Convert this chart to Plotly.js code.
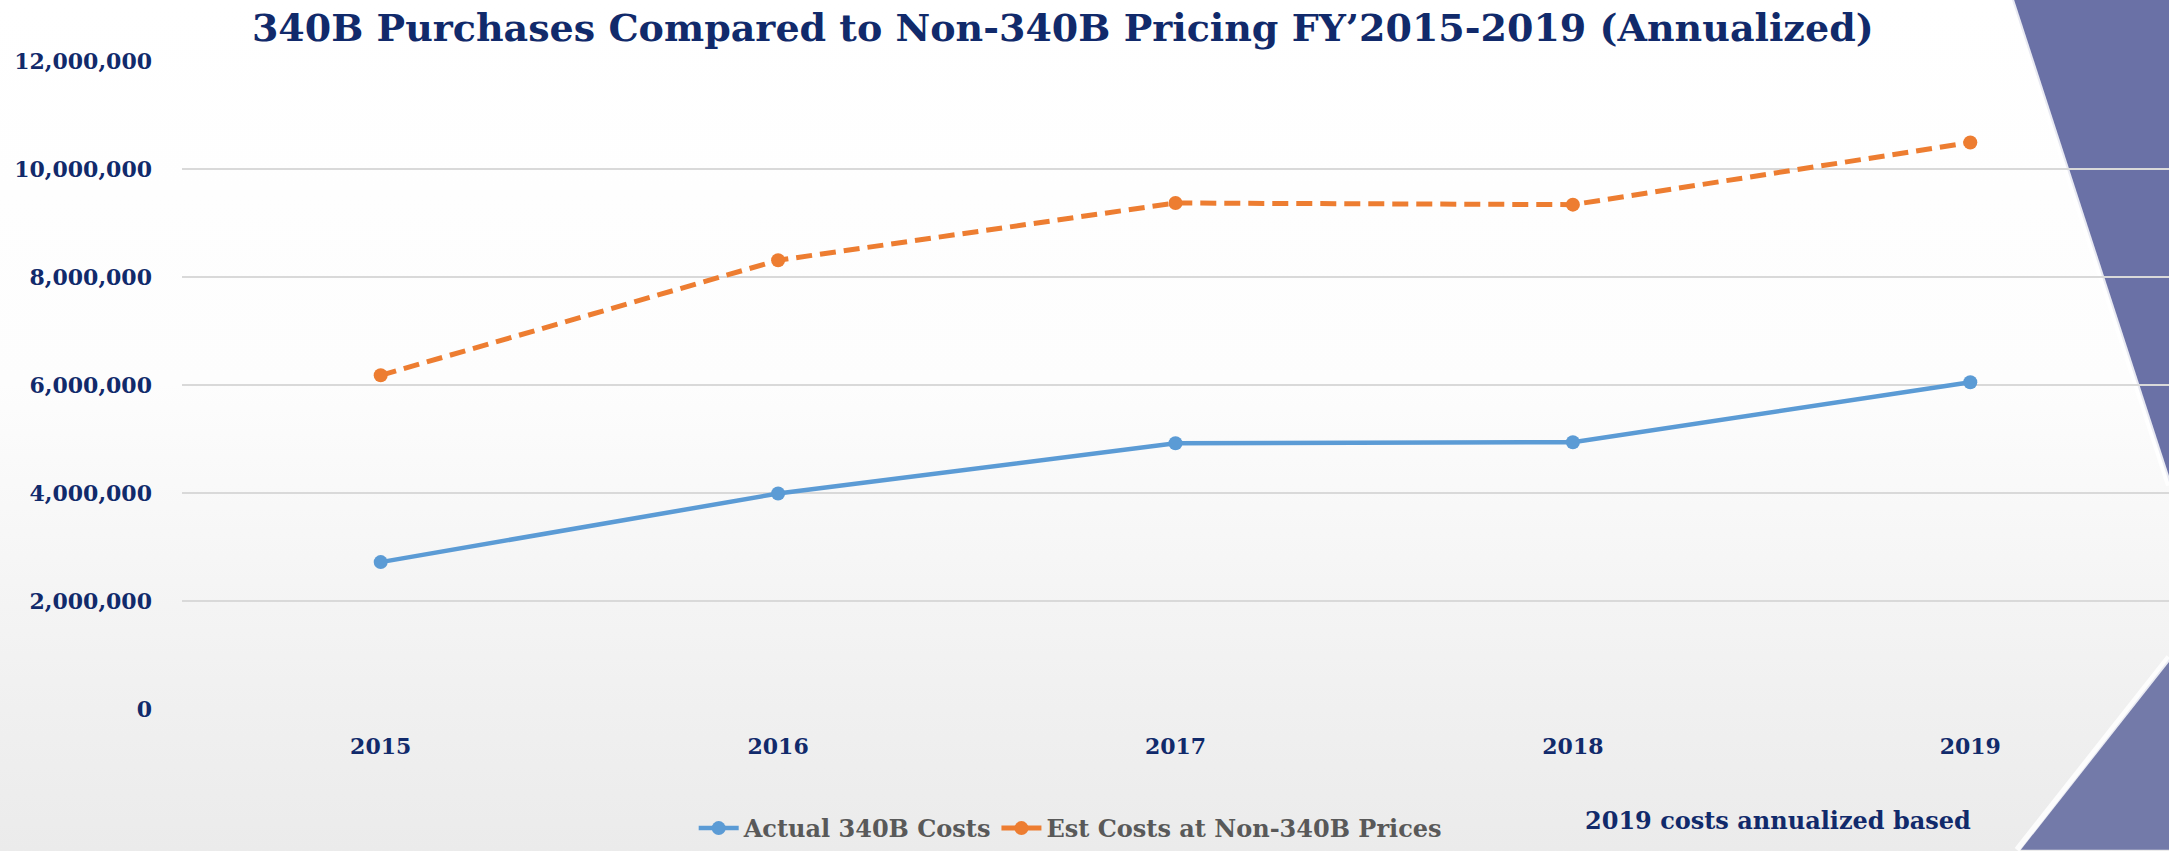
<!DOCTYPE html>
<html>
<head>
<meta charset="utf-8">
<script src="https://cdn.plot.ly/plotly-3.0.1.min.js"></script>
<style>
  html, body { margin: 0; padding: 0; }
  body {
    width: 2169px; height: 851px; overflow: hidden;
    background: linear-gradient(to bottom, #ffffff 0%, #fdfdfd 45%, #f1f1f1 80%, #ebebeb 100%);
  }
  #chart { width: 2169px; height: 851px; }
</style>
</head>
<body>
<div id="chart"></div>
<script>
// ---- data ----
const years = ["2015", "2016", "2017", "2018", "2019"];
const actual340B = [2720000, 3990000, 4920000, 4940000, 6050000];
const estNon340B = [6180000, 8310000, 9370000, 9340000, 10490000];
const yTickVals = [0, 2000000, 4000000, 6000000, 8000000, 10000000, 12000000];
const yTickText = ["0", "2,000,000", "4,000,000", "6,000,000", "8,000,000", "10,000,000", "12,000,000"];
const seriesNames = ["Actual 340B Costs", "Est Costs at Non-340B Prices"];
const titleText = "340B Purchases Compared to Non-340B Pricing FY\u20192015-2019 (Annualized)";
const noteText = "2019 costs annualized based";

const navy = "#112a6b";
const serif = "'DejaVu Serif', 'Liberation Serif', serif";

const traces = [
  {
    x: years, y: actual340B, name: seriesNames[0],
    type: "scatter", mode: "lines+markers",
    line: { color: "#5b9bd5", width: 4.5 },
    marker: { color: "#5b9bd5", size: 14, symbol: "circle" }
  },
  {
    x: years, y: estNon340B, name: seriesNames[1],
    type: "scatter", mode: "lines+markers",
    line: { color: "#ed7d31", width: 5, dash: "16px,8px" },
    marker: { color: "#ed7d31", size: 14, symbol: "circle" }
  }
];

const layout = {
  width: 2169, height: 851,
  paper_bgcolor: "rgba(0,0,0,0)",
  plot_bgcolor: "rgba(0,0,0,0)",
  margin: { l: 182, r: 0, t: 61, b: 141, pad: 0 },
  showlegend: true,
  title: {
    text: titleText,
    font: { family: serif, size: 38, color: navy, weight: "bold" },
    xref: "container", x: 0.49, xanchor: "center",
    yref: "container", y: 0.968, yanchor: "middle"
  },
  xaxis: {
    type: "category",
    range: [-0.5, 4.5],
    showgrid: false, zeroline: false, showline: false,
    ticks: "",
    ticklabelstandoff: 22,
    tickfont: { family: serif, size: 22, color: navy, weight: "bold" }
  },
  yaxis: {
    range: [0, 12000000],
    tickvals: yTickVals, ticktext: yTickText,
    showgrid: true, gridcolor: "#d9d9d9", gridwidth: 2,
    zeroline: false, showline: false,
    ticks: "",
    ticklabelstandoff: 29,
    tickfont: { family: serif, size: 22, color: navy, weight: "bold" }
  },
  legend: {
    orientation: "h",
    x: 0.447, xanchor: "center",
    y: -0.185, yanchor: "middle",
    bgcolor: "rgba(0,0,0,0)",
    font: { family: serif, size: 24, color: "#595959", weight: "bold" },
    itemwidth: 40
  },
  annotations: [
    {
      text: noteText, showarrow: false,
      xref: "paper", yref: "paper",
      x: 0.803, y: -0.172, xanchor: "center", yanchor: "middle",
      font: { family: serif, size: 24, color: navy, weight: "bold" }
    }
  ],
  shapes: [
    {
      type: "path", xref: "paper", yref: "paper", layer: "below",
      path: "M 0.921,1.094 L 1.0,1.094 L 1.0,0.35 L 0.921,1.094 Z",
      fillcolor: "#6a71a6", line: { width: 0 }
    },
    {
      type: "path", xref: "paper", yref: "paper", layer: "below",
      path: "M 0.9205,1.094 L 1.0,0.345",
      line: { color: "rgba(255,255,255,0.85)", width: 6 }
    },
    {
      type: "path", xref: "paper", yref: "paper", layer: "below",
      path: "M 0.925,-0.2173 L 1.0,0.077 L 1.0,-0.2173 Z",
      fillcolor: "#737aa9", line: { width: 0 }
    },
    {
      type: "path", xref: "paper", yref: "paper", layer: "below",
      path: "M 0.9235,-0.2173 L 1.0,0.08",
      line: { color: "rgba(255,255,255,0.85)", width: 6 }
    }
  ]
};

Plotly.newPlot("chart", traces, layout, { displayModeBar: false, staticPlot: true });
</script>
</body>
</html>
